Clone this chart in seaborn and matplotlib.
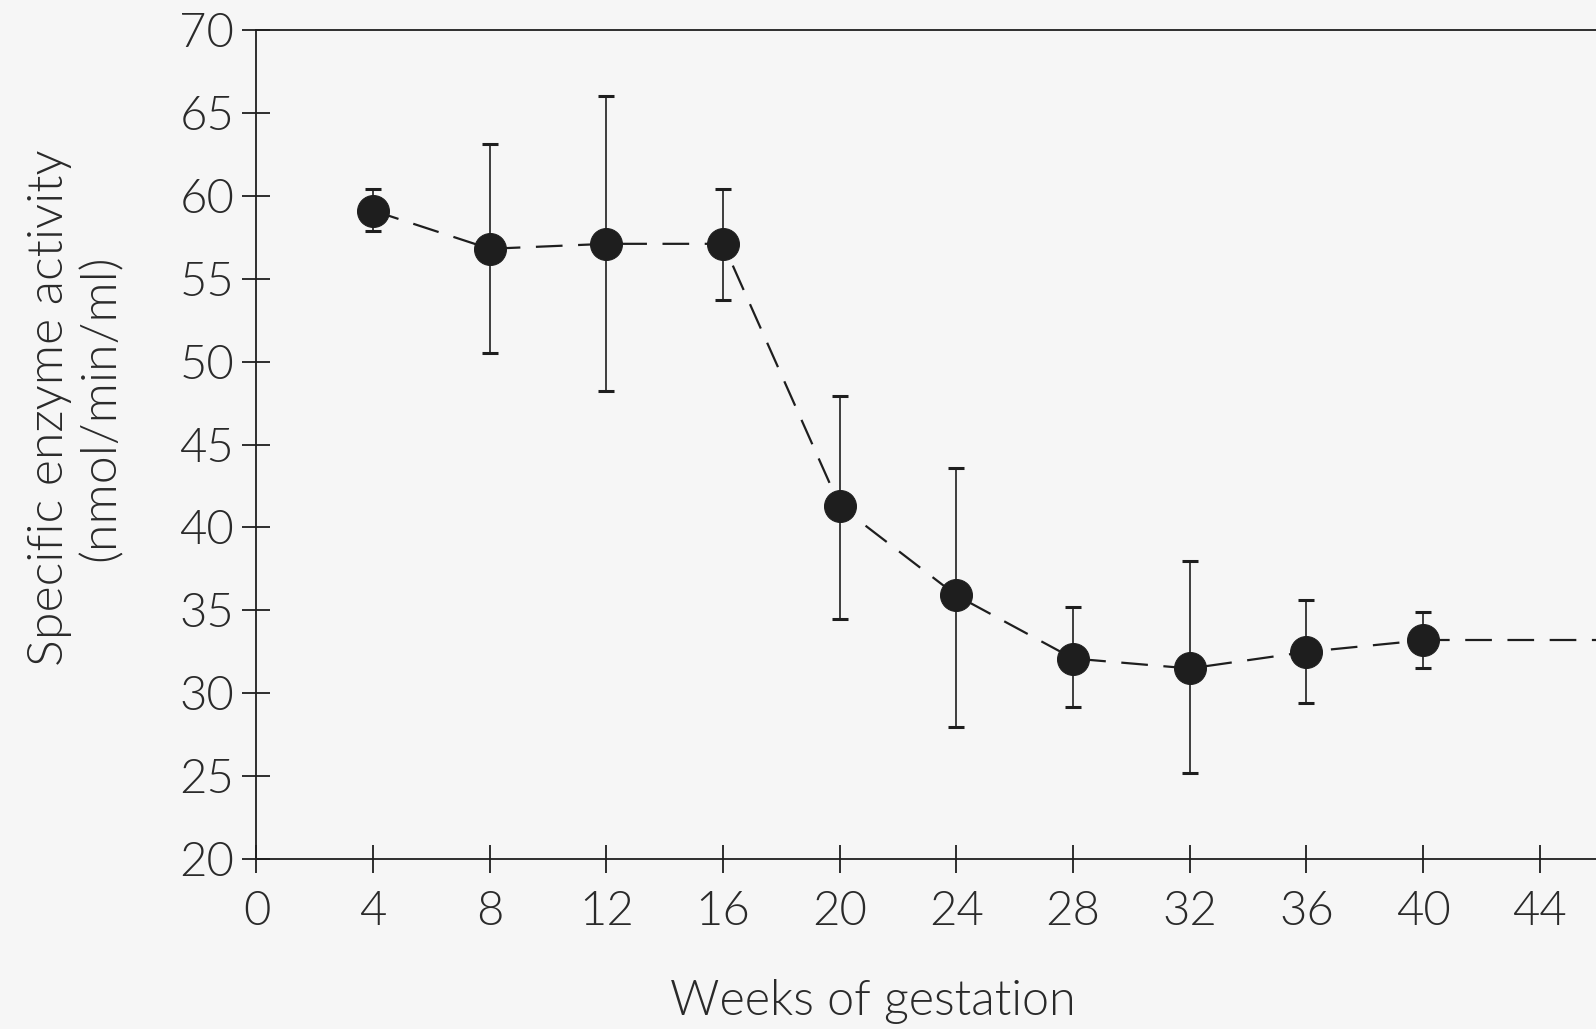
import numpy as np
import pandas as pd
import matplotlib
matplotlib.use('Agg')
import matplotlib.pyplot as plt
import seaborn as sns

# values
weeks = [4, 8, 12, 16, 20, 24, 28, 32, 36, 40]
activity = [59.1, 56.8, 57.1, 57.1, 41.3, 35.9, 32.1, 31.5, 32.5, 33.2]
err_hi = [60.4, 63.1, 66.0, 60.4, 47.9, 43.6, 35.2, 38.0, 35.6, 34.9]
err_lo = [57.85, 50.5, 48.2, 53.7, 34.5, 28.0, 29.2, 25.2, 29.4, 31.5]
# dashed line runs on past the last point to the cropped edge
tail_x = [40, 46]
tail_y = [33.2, 33.2]

xticks = list(range(0, 45, 4))
yticks = list(range(20, 71, 5))

df = pd.DataFrame({'weeks': weeks, 'activity': activity})
tail = pd.DataFrame({'weeks': tail_x, 'activity': tail_y})

sns.set_theme(style='ticks')
plt.rcParams['font.family'] = ['Lato', 'DejaVu Sans']
plt.rcParams['font.weight'] = 300
plt.rcParams['axes.labelweight'] = 300

ink = '#1e1e1e'
txt = '#2a2a2a'
bg = '#f6f6f6'

fig = plt.figure(figsize=(15.96, 10.29), dpi=100, facecolor=bg)
ax = fig.add_axes([0.1607, 0.165, 1 - 0.1607, 0.806])
ax.set_facecolor(bg)

lo = np.array(activity) - np.array(err_lo)
hi = np.array(err_hi) - np.array(activity)
ax.errorbar(weeks, activity, yerr=[lo, hi], fmt='none', ecolor=ink,
            elinewidth=1.2, capsize=5.5, capthick=2.2, zorder=2)

sns.lineplot(data=tail, x='weeks', y='activity', ax=ax, color=ink,
             linewidth=1.6, linestyle=(0, (12, 7)), zorder=1)
sns.lineplot(data=df, x='weeks', y='activity', ax=ax, color=ink,
             linewidth=1.6, linestyle=(0, (12, 7)), marker='o', markersize=23,
             markerfacecolor=ink, markeredgecolor=ink, zorder=3)

ax.set_xlim(0, 45.93)
ax.set_ylim(20, 70)
ax.set_xticks(xticks)
ax.set_yticks(yticks)
ax.tick_params(direction='inout', length=20, width=1.3, colors=ink,
               labelsize=34, labelcolor=txt)
ax.tick_params(axis='x', pad=13)
ax.tick_params(axis='y', pad=6)

for s in ['left', 'bottom', 'top']:
    ax.spines[s].set_color(ink)
    ax.spines[s].set_linewidth(1.3)
ax.spines['right'].set_visible(False)

ax.set_xlabel('Weeks of gestation', fontsize=35, color=txt)
ax.set_ylabel('Specific enzyme activity\n(nmol/min/ml)', fontsize=36,
              color=txt, linespacing=1.2)
ax.xaxis.set_label_coords(0.46, -0.145)
ax.yaxis.set_label_coords(-0.099, 0.545)

fig.savefig('out.png', dpi=100, facecolor=bg)
